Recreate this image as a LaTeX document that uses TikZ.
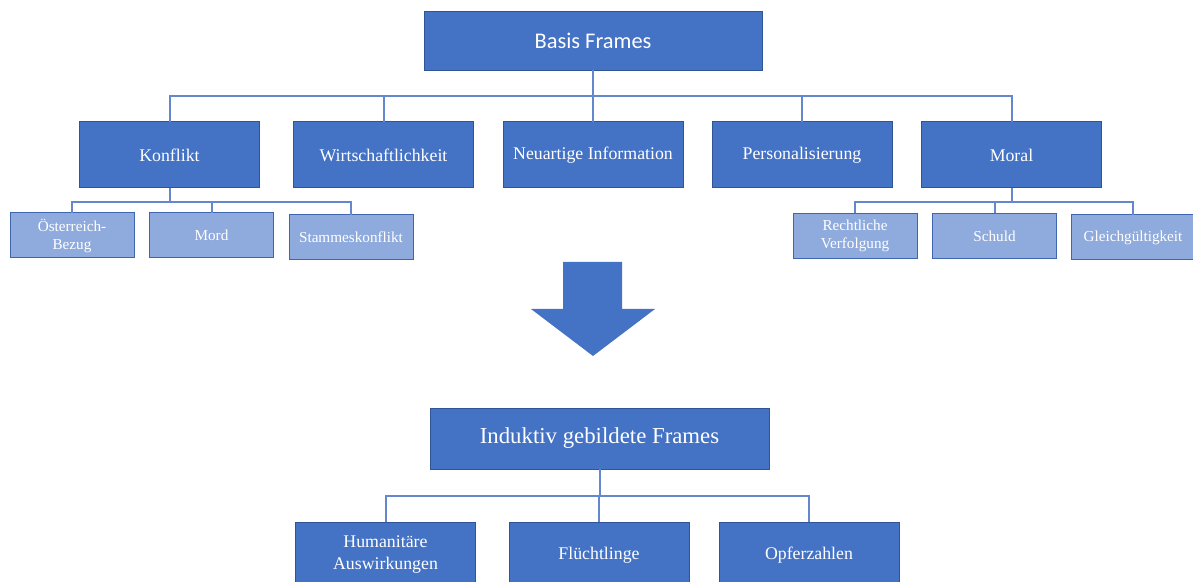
\documentclass[tikz,border=0pt]{standalone}
\usepackage{fontspec}
\setmainfont{Liberation Serif}
\newfontfamily\calibri{Carlito}
\usetikzlibrary{positioning}

\definecolor{boxblue}{HTML}{4472C4}
\definecolor{boxedge}{HTML}{2F5597}
\definecolor{subblue}{HTML}{8FAADC}
\definecolor{subedge}{HTML}{3F65AE}
\definecolor{linkblue}{HTML}{6487CD}

\begin{document}
\begin{tikzpicture}[x=0.5pt, y=-0.5pt,
    frame/.style={rectangle, draw=boxedge, line width=0.5pt, fill=boxblue,
      text=white, inner sep=0pt, outer sep=0pt, align=center},
    head/.style={frame, minimum width=169pt, minimum height=29.5pt},
    main/.style={frame, minimum width=90pt, minimum height=33pt,
      font=\fontsize{8.9}{11}\selectfont},
    sub/.style={frame, draw=subedge, fill=subblue, minimum width=62pt,
      minimum height=22.5pt, font=\fontsize{7.6}{9}\selectfont},
    link/.style={draw=linkblue, line width=1pt}]

  \path[use as bounding box, clip] (0,0) rectangle (1193,582);

  % upper tree
  \node[head, font=\calibri\fontsize{11.2}{13}\selectfont] (basis) at (593,41) {Basis Frames};

  \node[main] (konflikt) at (169.5,155) {Konflikt};
  \node[main] (wirtschaft) at (383.5,155) {Wirtschaftlichkeit};
  \node[main] (neu) at (593,155) {Neuartige Information};
  \node[main] (person) at (802,155) {Personalisierung};
  \node[main] (moral) at (1011.5,155) {Moral};

  \node[sub] (oesterreich) at (72,235.5) {Österreich-\\Bezug};
  \node[sub] (mord) at (211.5,235.5) {Mord};
  \node[sub] (stamm) at (351,237.5) {Stammeskonflikt};

  \node[sub] (recht) at (855,236) {Rechtliche\\Verfolgung};
  \node[sub] (schuld) at (994.5,236) {Schuld};
  \node[sub] (gleich) at (1133,237.5) {Gleichgültigkeit};

  \coordinate (bus1) at (593,96);
  \coordinate (bus2) at ([yshift=-7pt]konflikt.south);
  \coordinate (bus3) at ([yshift=-7pt]moral.south);

  \foreach \c in {konflikt,wirtschaft,neu,person,moral}
    \draw[link] (basis.south) -- (bus1) -| (\c.north);
  \foreach \c in {oesterreich,mord,stamm}
    \draw[link] (konflikt.south) -- (bus2) -| (\c.north);
  \foreach \c in {recht,schuld,gleich}
    \draw[link] (moral.south) -- (bus3) -| (\c.north);

  % big arrow between the trees
  \fill[boxblue] (563,262) -- (622,262) -- (622,309) -- (655,309)
    -- (593,356) -- (531,309) -- (563,309) -- cycle;

  % lower tree
  \node[head, minimum width=169.5pt, minimum height=30.5pt,
    font=\fontsize{11.4}{13}\selectfont] (induktiv) at (599.5,438.5) {Induktiv gebildete Frames};

  \node[main] (human) at (385.5,555) {Humanitäre\\Auswirkungen};
  \node[main] (fluecht) at (599,555) {Flüchtlinge};
  \node[main] (opfer) at (809,555) {Opferzahlen};

  \coordinate (bus4) at (599.5,496);
  \foreach \c in {human,fluecht,opfer}
    \draw[link] (induktiv.south) -- (bus4) -| (\c.north);
\end{tikzpicture}
\end{document}
